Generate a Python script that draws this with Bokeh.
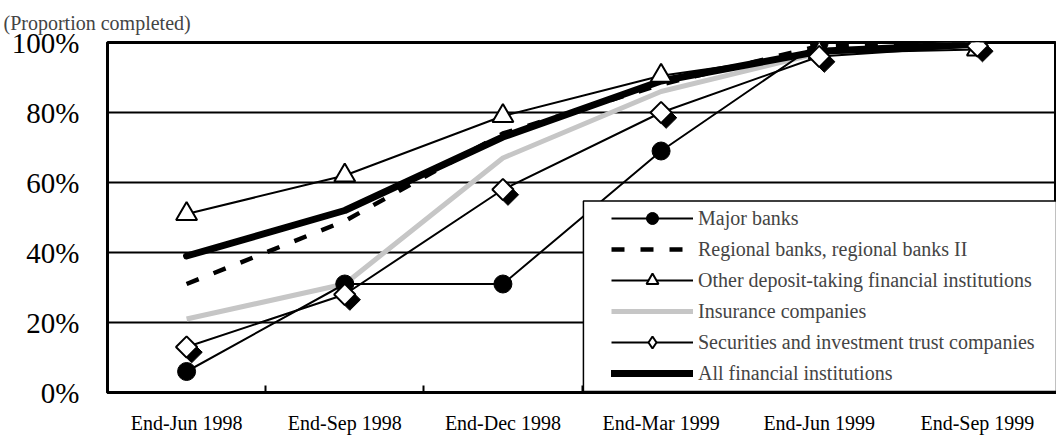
import math
from bokeh.plotting import figure
from bokeh.models import Range1d, FixedTicker, BoxAnnotation, Legend, LegendItem, ColumnDataSource
from bokeh.transform import dodge
from bokeh.embed import file_html
from bokeh.resources import INLINE

categories = ["End-Jun 1998", "End-Sep 1998", "End-Dec 1998", "End-Mar 1999", "End-Jun 1999", "End-Sep 1999"]
major_banks = [6, 31, 31, 69, 100, 100]
regional_banks = [31, 49, 74, 88, 99, 100]
other_deposit = [51, 62, 79, 90.5, 97, 98]
insurance = [21, 31, 67, 86, 97, 100]
securities = [13, 28, 58, 80, 96, 99]
all_fi = [39, 52, 73, 89, 97.5, 99.5]
y_ticks = [0, 20, 40, 60, 80, 100]

FONT = "Liberation Serif"
xs = list(range(len(categories)))
src = ColumnDataSource(dict(x=xs, major=major_banks, regional=regional_banks, other=other_deposit,
                            insurance=insurance, securities=securities, allfi=all_fi))

p = figure(width=1056, height=436, x_range=Range1d(-0.5, 5.5), y_range=Range1d(0, 100),
           output_backend="svg", toolbar_location=None,
           min_border_left=107, min_border_right=0, min_border_top=42, min_border_bottom=40)

p.title.text = "(Proportion completed)"
p.title.text_font = FONT
p.title.text_font_size = "20px"
p.title.text_font_style = "normal"
p.title.align = "left"
p.title.offset = -104
p.title.standoff = 17

p.outline_line_color = "black"
p.outline_line_width = 3

# axes
p.xaxis.ticker = FixedTicker(ticks=xs, minor_ticks=[0.5, 1.5, 2.5, 3.5, 4.5])
p.xaxis.major_label_overrides = {i: c for i, c in enumerate(categories)}
p.xaxis.major_tick_line_color = None
p.xaxis.minor_tick_in = 7
p.xaxis.minor_tick_out = 0
p.xaxis.minor_tick_line_color = "black"
p.xaxis.minor_tick_line_width = 2
p.xaxis.axis_line_color = "black"
p.xaxis.axis_line_width = 3
p.xaxis.major_label_text_font = FONT
p.xaxis.major_label_text_font_size = "20px"
p.xaxis.major_label_text_font_style = "normal"
p.xaxis.major_label_text_color = "black"
p.xaxis.major_label_standoff = 13

p.yaxis.ticker = FixedTicker(ticks=y_ticks, minor_ticks=[])
p.yaxis.major_label_overrides = {v: f"{v}%" for v in y_ticks}
p.yaxis.major_tick_line_color = None
p.yaxis.minor_tick_line_color = None
p.yaxis.axis_line_color = "black"
p.yaxis.axis_line_width = 3
p.yaxis.major_label_text_font = FONT
p.yaxis.major_label_text_font_size = "29px"
p.yaxis.major_label_text_font_style = "normal"
p.yaxis.major_label_text_color = "black"
p.yaxis.major_label_standoff = 22

p.xgrid.visible = False
p.ygrid.ticker = FixedTicker(ticks=[20, 40, 60, 80])
p.ygrid.grid_line_color = "black"
p.ygrid.grid_line_width = 2

# lines
r_ins = p.line('x', 'insurance', source=src, line_color="#c6c6c6", line_width=5)
r_reg = p.line('x', 'regional', source=src, line_color="black", line_width=4.5, line_dash="13 16")
r_maj = p.line('x', 'major', source=src, line_color="black", line_width=2)
r_oth = p.line('x', 'other', source=src, line_color="black", line_width=2)
r_sec = p.line('x', 'securities', source=src, line_color="black", line_width=2)
r_all = p.line('x', 'allfi', source=src, line_color="black", line_width=7, line_cap="round", line_join="round")

# markers
m_maj = p.scatter('x', 'major', source=src, marker="circle", size=18, fill_color="black", line_color="black")
m_oth = p.scatter('x', 'other', source=src, marker="triangle", size=21, fill_color="white",
                  line_color="black", line_width=2)
p.scatter(x=dodge('x', 0.032), y=dodge('securities', -1.5), source=src, marker="square",
          angle=math.pi / 4, size=15, fill_color="black", line_color="black")
p.scatter('x', 'securities', source=src, marker="square", angle=math.pi / 4, size=15,
          fill_color="white", line_color="black", line_width=2)
# legend-only diamond glyph (hidden in the plot)
m_sec_leg = p.scatter('x', 'securities', source=src, marker="diamond", size=16, fill_color="white",
                      line_color="black", line_width=2, visible=False)

# legend frame with shadow
shadow = BoxAnnotation(left=2.553, bottom=-1.9, top=52.7, fill_color="black", fill_alpha=1,
                       line_alpha=0)
box = BoxAnnotation(left=2.509, bottom=0.3, top=54.7, fill_color="white", fill_alpha=1,
                    line_color="black", line_width=1.5, line_alpha=1)
p.add_layout(shadow)
p.add_layout(box)

legend = Legend(items=[
    LegendItem(label="Major banks", renderers=[r_maj, m_maj]),
    LegendItem(label="Regional banks, regional banks II", renderers=[r_reg]),
    LegendItem(label="Other deposit-taking financial institutions", renderers=[r_oth, m_oth]),
    LegendItem(label="Insurance companies", renderers=[r_ins]),
    LegendItem(label="Securities and investment trust companies", renderers=[r_sec, m_sec_leg]),
    LegendItem(label="All financial institutions", renderers=[r_all]),
], location=(504, 4), label_text_font=FONT, label_text_font_size="20px",
    glyph_width=82, glyph_height=30, label_height=30, spacing=1, padding=0, margin=0,
    label_standoff=5, border_line_alpha=0, background_fill_alpha=0)
p.add_layout(legend)

open("out.html", "w").write(file_html(p, INLINE))
